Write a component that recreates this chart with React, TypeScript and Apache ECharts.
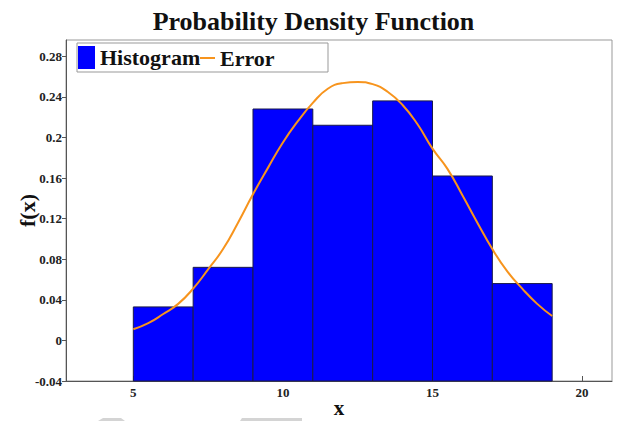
import React, { useEffect, useRef } from "react";
import * as echarts from "echarts";

const binEdges = [5, 7, 9, 11, 13, 15, 17, 19];
const density = [0.033, 0.072, 0.228, 0.212, 0.236, 0.162, 0.056];

const curveX = [5, 5.5, 6, 6.5, 7, 7.5, 8, 8.5, 9, 9.5, 10, 10.5, 11, 11.5, 12, 12.5, 13, 13.5, 14, 14.5, 15, 15.5, 16, 16.5, 17, 17.5, 18, 18.5, 19];
const curveY = [0.011, 0.017, 0.026, 0.036, 0.051, 0.070, 0.090, 0.116, 0.144, 0.170, 0.195, 0.216, 0.234, 0.248, 0.2535, 0.2547, 0.2525, 0.245, 0.232, 0.213, 0.189, 0.169, 0.143, 0.116, 0.090, 0.068, 0.051, 0.036, 0.024];

const xTicks = [5, 10, 15, 20];

const Y_MIN = -0.04;
const Y_MAX = 0.296;
const SERIF = "'Liberation Serif', 'DejaVu Serif', serif";

export default function App() {
  const ref = useRef<HTMLDivElement>(null);
  useEffect(() => {
    if (!ref.current) return;
    const chart = echarts.init(ref.current, undefined, { renderer: "svg" });
    const histData = density.map((d, i) => [binEdges[i], binEdges[i + 1], d]);
    const lineData = curveX.map((x, i) => [x, curveY[i]]);
    const legendText = { fontFamily: SERIF, fontWeight: "bold", fontSize: 22, color: "#111" };
    chart.setOption({
      animation: false,
      backgroundColor: "#ffffff",
      title: {
        text: "Probability Density Function",
        left: "center",
        top: 3,
        textStyle: { fontFamily: SERIF, fontWeight: "bold", fontSize: 26, color: "#111" },
      },
      graphic: [
        {
          type: "rect",
          z: 3,
          shape: { x: 77, y: 43, width: 251, height: 29 },
          style: { fill: "#fff", stroke: "#999", lineWidth: 1 },
        },
        {
          type: "polygon",
          shape: { points: [[98, 421], [103, 418], [121, 418], [125, 421]] },
          style: { fill: "#d4d4d4" },
        },
        {
          type: "polygon",
          shape: { points: [[240, 421], [242, 418], [302, 418], [302, 421]] },
          style: { fill: "#d4d4d4" },
        },
      ],
      legend: [
        {
          left: 76,
          top: 44,
          itemWidth: 17,
          itemHeight: 23,
          itemGap: 4,
          padding: 2,
          textStyle: legendText,
          data: [{ name: "Histogram", icon: "rect" }],
        },
        {
          left: 198,
          top: 45,
          itemWidth: 15,
          itemHeight: 2,
          padding: 2,
          textStyle: legendText,
          data: [{ name: "Error", icon: "rect" }],
        },
      ],
      grid: {
        left: 66,
        right: 15,
        top: 40,
        bottom: 40,
        outerBoundsMode: "none",
        containLabel: false,
        show: true,
        borderColor: "#999",
        borderWidth: 1,
      },
      xAxis: {
        type: "value",
        min: 2.75,
        max: 21,
        name: "x",
        nameLocation: "middle",
        nameGap: 16,
        nameMoveOverlap: false,
        nameTextStyle: { fontFamily: SERIF, fontWeight: "bold", fontSize: 21, color: "#111" },
        axisLine: { onZero: false, lineStyle: { color: "#555" } },
        axisTick: { inside: true, length: 5, customValues: xTicks, lineStyle: { color: "#555" } },
        axisLabel: { customValues: xTicks, fontFamily: SERIF, fontWeight: "bold", fontSize: 13, color: "#222", margin: 5 },
        splitLine: { show: false },
      },
      yAxis: {
        type: "value",
        min: Y_MIN,
        max: Y_MAX,
        interval: 0.04,
        name: "f(x)",
        nameLocation: "middle",
        nameGap: 28,
        nameMoveOverlap: false,
        nameTextStyle: { fontFamily: SERIF, fontWeight: "bold", fontSize: 22, color: "#111" },
        axisLine: { show: true, onZero: false, lineStyle: { color: "#555" } },
        axisTick: { show: true, length: 4, lineStyle: { color: "#555" } },
        axisLabel: {
          showMaxLabel: false,
          fontFamily: SERIF,
          fontWeight: "bold",
          fontSize: 13,
          color: "#222",
          margin: 4,
        },
        splitLine: { show: false },
      },
      series: [
        {
          name: "Histogram",
          type: "custom",
          itemStyle: { color: "#0000ff" },
          encode: { x: [0, 1], y: 2 },
          data: histData,
          z: 2,
          renderItem: (params: any, api: any) => {
            const x0 = api.value(0);
            const x1 = api.value(1);
            const h = api.value(2);
            const p0 = api.coord([x0, h]);
            const p1 = api.coord([x1, Y_MIN]);
            return {
              type: "rect",
              shape: { x: p0[0], y: p0[1], width: p1[0] - p0[0], height: p1[1] - p0[1] },
              style: { fill: "#0000ff", stroke: "#1a1a4a", lineWidth: 1 },
            };
          },
        },
        {
          name: "Error",
          type: "line",
          data: lineData,
          smooth: 0.5,
          symbol: "none",
          z: 3,
          itemStyle: { color: "#f7941d" },
          lineStyle: { color: "#f7941d", width: 2 },
        },
      ],
    });
    return () => chart.dispose();
  }, []);
  return (
    <div
      ref={ref}
      style={{ position: "fixed", left: 0, top: 0, width: 627, height: 421, background: "#fff" }}
    />
  );
}
